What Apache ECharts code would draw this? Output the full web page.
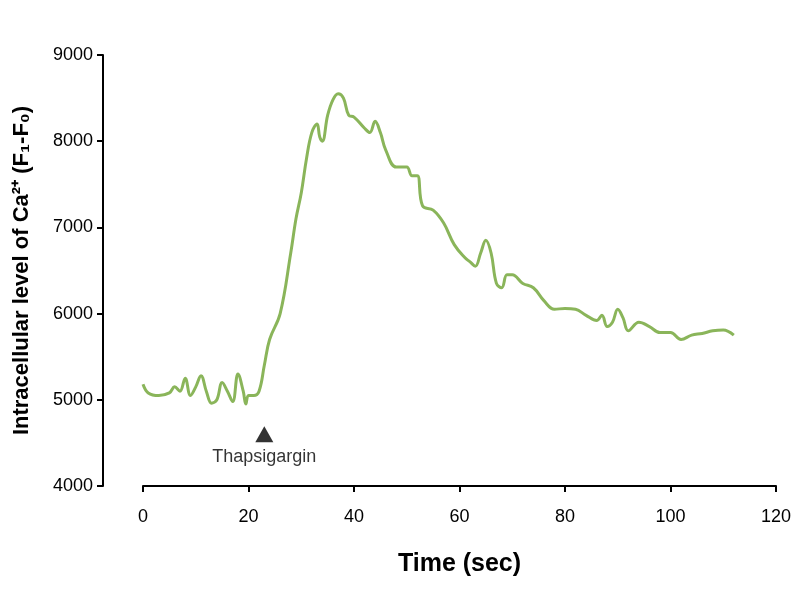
<!DOCTYPE html><html><head><meta charset="utf-8"><script src="https://cdn.jsdelivr.net/npm/echarts@6/dist/echarts.min.js"></script></head><body style="margin:0"><div id="c" style="width:800px;height:600px"></div><script>
const times=[0,1,3,5,6,7,8,9,10,11,12,13,14,15,16,17,18,19,19.5,20,21,22,23,24,26,28,29,30,31,32,33,33.5,34,35,36,37,38,39,40,42,43,44,45,46,48,50,51,52,53,55,57,59,61,62,63,64,65,66,67,68,69,70,72,74,76,78,80,82,84,86,87,88,89,90,91,92,94,96,98,100,102,104,106,108,110,112];
const values=[5180,5080,5050,5080,5150,5100,5250,5050,5150,5280,5100,4960,5000,5200,5100,4980,5300,5100,4950,5050,5050,5100,5400,5700,6000,6700,7100,7400,7800,8100,8200,8050,8000,8300,8480,8550,8500,8300,8280,8150,8100,8230,8100,7900,7700,7700,7600,7600,7250,7200,7050,6800,6650,6600,6550,6700,6850,6700,6350,6300,6450,6450,6350,6300,6150,6050,6060,6050,5980,5920,5980,5850,5900,6050,5950,5800,5900,5850,5780,5780,5700,5750,5770,5800,5810,5750];
const xTicks=[0,20,40,60,80,100,120];
const yTicks=[4000,5000,6000,7000,8000,9000];
echarts.init(document.getElementById('c')).setOption({
grid:{left:143,right:24,top:55,bottom:114},
xAxis:{type:'value',min:0,max:120,interval:20,axisLine:{onZero:false,lineStyle:{color:'#000',width:2}},axisTick:{show:true,inside:false,length:6,lineStyle:{color:'#000',width:2}},splitLine:{show:false},
 axisLabel:{color:'#000',fontSize:18,fontFamily:'Liberation Sans',margin:22,formatter:v=>String(v)},
 name:'Time (sec)',nameLocation:'middle',nameGap:66,nameTextStyle:{color:'#000',fontSize:25,fontWeight:'bold',fontFamily:'Liberation Sans'}},
yAxis:{type:'value',min:4000,max:9000,interval:1000,offset:40,axisLine:{show:true,onZero:false,lineStyle:{color:'#000',width:2}},axisTick:{show:true,inside:false,length:6,lineStyle:{color:'#000',width:2}},splitLine:{show:false},
 axisLabel:{color:'#000',fontSize:18,fontFamily:'Liberation Sans',margin:10,formatter:v=>String(v)},
 name:'Intracellular level of Ca²⁺ (F₁-F₀)',nameLocation:'middle',nameGap:70,nameTextStyle:{color:'#000',fontSize:22,fontWeight:'bold',fontFamily:'Liberation Sans'}},
series:[{type:'line',data:times.map((t,i)=>[t,values[i]]),smooth:0.4,symbol:'none',lineStyle:{color:'#8ab55a',width:3}},
{type:'scatter',data:[[23,4600]],symbol:'triangle',symbolSize:[18,16],itemStyle:{color:'#000'},
 label:{show:true,position:'bottom',distance:6,formatter:'Thapsigargin',color:'#000',fontSize:18,fontFamily:'Liberation Sans'}}]
});
</script></body></html>
